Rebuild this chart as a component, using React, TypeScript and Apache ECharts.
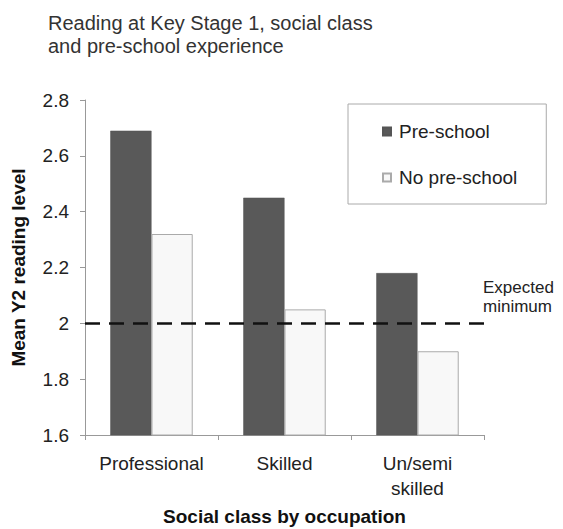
import React, { useEffect, useRef } from "react";
import * as echarts from "echarts";

const categories = ["Professional", "Skilled", "Un/semi\nskilled"];
const preSchool = [2.69, 2.45, 2.18];
const noPreSchool = [2.32, 2.05, 1.9];
const expectedMinimum = 2;
const yTicks = { min: 1.6, max: 2.8, interval: 0.2 };

const FONT = "'Liberation Sans', Arial, sans-serif";

export default function App() {
  const ref = useRef<HTMLDivElement>(null);
  useEffect(() => {
    if (!ref.current) return;
    const chart = echarts.init(ref.current, undefined, { renderer: "svg" });
    chart.setOption({
      animation: false,
      backgroundColor: "#ffffff",
      textStyle: { fontFamily: FONT },
      title: {
        text: "Reading at Key Stage 1, social class\nand pre-school experience",
        left: 40,
        top: 3,
        padding: 0,
        textStyle: {
          fontFamily: FONT,
          fontSize: 20,
          fontWeight: "normal",
          color: "#333",
          lineHeight: 23,
        },
      },
      legend: {
        orient: "vertical",
        left: 340,
        top: 96,
        borderColor: "#aaa",
        borderWidth: 1,
        padding: [18, 29, 17, 34],
        itemGap: 27,
        itemWidth: 8,
        itemHeight: 8,
        icon: "rect",
        textStyle: { fontFamily: FONT, fontSize: 19, color: "#222", padding: [0, 0, 0, 3] },
        data: ["Pre-school", "No pre-school"],
      },
      grid: { left: 77, right: 79, top: 92, bottom: 94, outerBoundsMode: "none", containLabel: false },
      xAxis: {
        type: "category",
        data: categories,
        axisLine: { lineStyle: { color: "#999" } },
        axisTick: { show: true, length: 5, lineStyle: { color: "#999" } },
        axisLabel: {
          interval: 0,
          fontFamily: FONT,
          fontSize: 19,
          color: "#222",
          margin: 16,
          lineHeight: 25,
        },
        name: "Social class by occupation",
        nameLocation: "middle",
        nameGap: 72,
        nameTextStyle: { fontFamily: FONT, fontSize: 19, fontWeight: "bold", color: "#111" },
      },
      yAxis: {
        type: "value",
        min: yTicks.min,
        max: yTicks.max,
        interval: yTicks.interval,
        splitLine: { show: false },
        axisLine: { show: true, lineStyle: { color: "#999" } },
        axisTick: { show: true, length: 5, lineStyle: { color: "#999" } },
        axisLabel: {
          fontFamily: FONT,
          fontSize: 19,
          color: "#222",
          margin: 16,
          formatter: (v: number) => String(Math.round(v * 10) / 10),
        },
        name: "Mean Y2 reading level",
        nameLocation: "middle",
        nameGap: 57,
        nameTextStyle: { fontFamily: FONT, fontSize: 19, fontWeight: "bold", color: "#111" },
      },
      series: [
        {
          name: "Pre-school",
          type: "bar",
          data: preSchool,
          barGap: "0%",
          barCategoryGap: "38%",
          itemStyle: { color: "#595959", borderColor: "#555", borderWidth: 0.5 },
          markLine: {
            silent: true,
            symbol: "none",
            label: { show: false },
            lineStyle: { color: "#111", type: [15, 9], width: 2.5 },
            data: [{ yAxis: expectedMinimum }],
          },
        },
        {
          name: "No pre-school",
          type: "bar",
          data: noPreSchool,
          itemStyle: { color: "#f8f8f8", borderColor: "#aaa", borderWidth: 1 },
        },
      ],
      graphic: [
        {
          type: "text",
          left: 475,
          top: 270,
          style: {
            text: "Expected\nminimum",
            font: `17px ${FONT}`,
            fill: "#222",
            lineHeight: 19,
          },
        },
      ],
    });
    return () => chart.dispose();
  }, []);
  return <div ref={ref} style={{ width: 555, height: 521 }} />;
}
